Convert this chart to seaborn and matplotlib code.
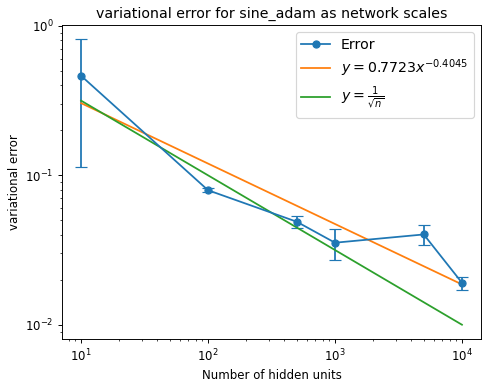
import numpy as np
import pandas as pd
import matplotlib
matplotlib.use("Agg")
import matplotlib.pyplot as plt
import seaborn as sns

hidden_units = [10, 100, 500, 1000, 5000, 10000]
error_mean = [0.464, 0.0795, 0.0489, 0.0354, 0.0402, 0.0191]
error_std = [0.35, 0.0022, 0.0047, 0.0082, 0.0062, 0.0019]
fit_a = 0.7723
fit_b = -0.4045

DPI = 85
fig = plt.figure(figsize=(482 / DPI, 383 / DPI), dpi=DPI)
ax = fig.add_axes([62 / 482, 1 - 339 / 383, (481 - 62) / 482, (339 - 25) / 383])

x = np.array(hidden_units, dtype=float)
df = pd.DataFrame({
    "n": np.concatenate([x, x]),
    "y": np.concatenate([fit_a * x ** fit_b, 1 / np.sqrt(x)]),
    "kind": ["fit"] * len(x) + ["sqrt"] * len(x),
})

eb = ax.errorbar(hidden_units, error_mean, yerr=error_std, marker="o", color="C0",
                 capsize=5, label="Error")
sns.lineplot(data=df[df.kind == "fit"], x="n", y="y", ax=ax, color="C1",
             label=r"$y = 0.7723x^{-0.4045}$")
sns.lineplot(data=df[df.kind == "sqrt"], x="n", y="y", ax=ax, color="C2",
             label=r"$y = \frac{1}{\sqrt{n}}$")
ax.set_xscale("log")
ax.set_yscale("log")
ax.set_xlabel("Number of hidden units")
ax.set_ylabel("variational error")
ax.set_title("variational error for sine_adam as network scales")
h, l = ax.get_legend_handles_labels()
lab_fit = r"$y = 0.7723x^{-0.4045}$"
lab_sqrt = r"$y = \frac{1}{\sqrt{n}}$"
ax.legend([eb[0], h[l.index(lab_fit)], h[l.index(lab_sqrt)]],
          ["Error", lab_fit, lab_sqrt], loc="upper right", fontsize=12,
          labelspacing=0.4)
fig.savefig("out.png", dpi=DPI)
